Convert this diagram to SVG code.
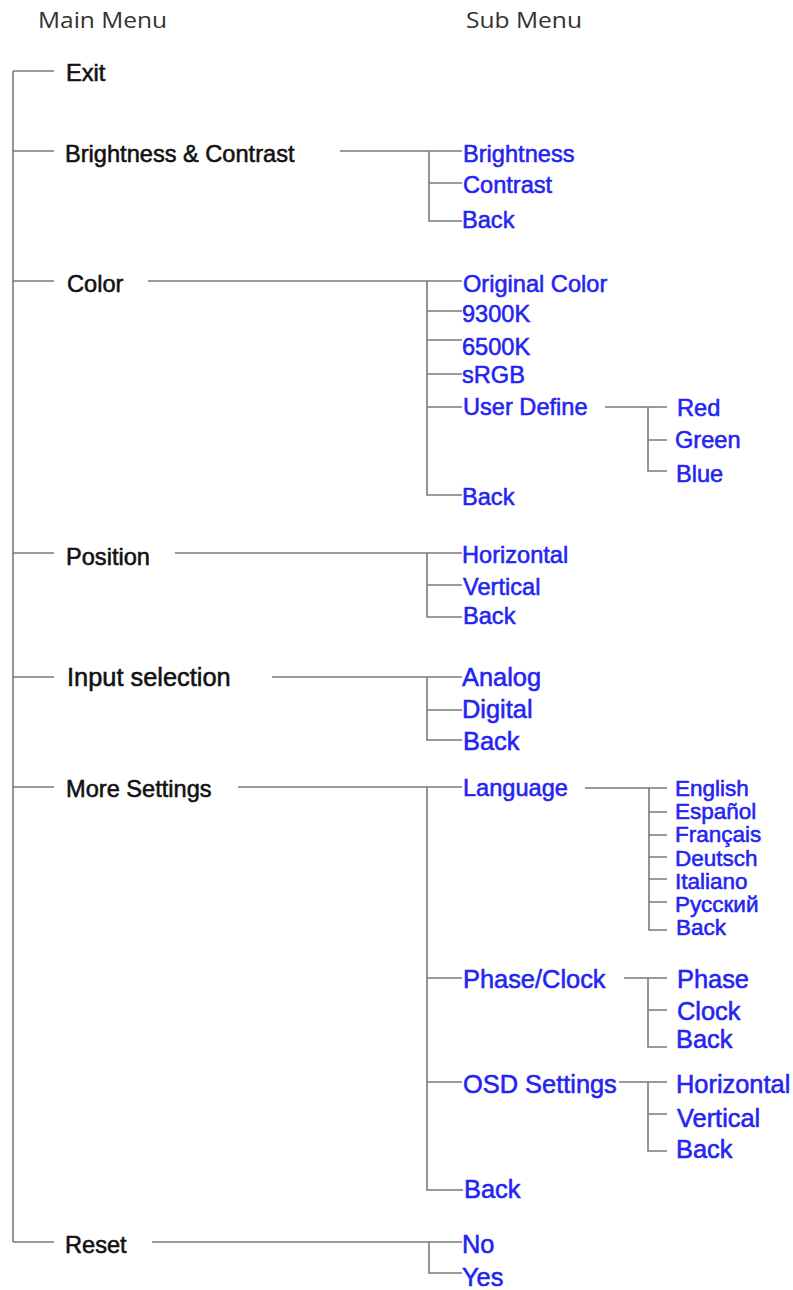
<svg xmlns="http://www.w3.org/2000/svg" width="793" height="1290" viewBox="0 0 793 1290">
<style>
.hd{font-family:"Open Sans","Liberation Sans",sans-serif;font-size:22px;fill:#333}
.m{font-family:"Liberation Sans",Arial,sans-serif;font-size:23.6px;fill:#111;stroke:#111;stroke-width:0.55}
.s{font-family:"Liberation Sans",Arial,sans-serif;font-size:23.6px;fill:#2424f2;stroke:#2424f2;stroke-width:0.55}
.l{font-size:22.5px}
.b{font-size:25.4px}
.c{stroke:#7a7a7a;stroke-width:1.6;fill:none}
</style>
<rect width="793" height="1290" fill="#fff"/>
<g id="headers">
<text class="hd" x="38" y="28" textLength="129" lengthAdjust="spacingAndGlyphs">Main Menu</text>
<text class="hd" x="466" y="28" textLength="116" lengthAdjust="spacingAndGlyphs">Sub Menu</text>
</g>
<g id="connectors" class="c">
<path d="M13,71 V1242"/>
<path d="M13,71 H54 M13,151 H54 M13,281 H54 M13,553 H54 M13,677 H54 M13,787 H54 M13,1242 H54"/>
<path d="M340,151 H462 M429,151 V221 H462 M429,183 H462"/>
<path d="M148,281 H462 M427,281 V495 H462 M427,311 H462 M427,340 H462 M427,374 H462 M427,407 H462"/>
<path d="M605,407 H667 M648,407 V471 H667 M648,440 H667"/>
<path d="M175,553 H462 M427,553 V617 H462 M427,585 H462"/>
<path d="M272,677 H462 M427,677 V740 H462 M427,710 H462"/>
<path d="M238,787 H462 M427,787 V1190 H463 M427,978 H462 M427,1082 H462"/>
<path d="M585,788 H667 M649,788 V930 H667 M649,812 H667 M649,835 H667 M649,857 H667 M649,879 H667 M649,902 H667"/>
<path d="M624,978 H667 M648,978 V1047 H667 M648,1010 H667"/>
<path d="M619,1082 H667 M648,1082 V1151 H667 M648,1114 H667"/>
<path d="M152,1242 H462 M429,1242 V1273 H462"/>
</g>
<g id="exit"><text class="m" x="66" y="81">Exit</text></g>
<g id="brightness-contrast"><text class="m" x="65" y="162">Brightness &amp; Contrast</text></g>
<g id="color"><text class="m" x="67" y="292">Color</text></g>
<g id="position"><text class="m" x="66" y="565">Position</text></g>
<g id="input-selection"><text class="m b" x="67" y="686">Input selection</text></g>
<g id="more-settings"><text class="m" x="66" y="797">More Settings</text></g>
<g id="reset"><text class="m" x="65" y="1253">Reset</text></g>
<g id="bc-sub">
<text class="s" x="463" y="162">Brightness</text>
<text class="s" x="463" y="193">Contrast</text>
<text class="s" x="462" y="228">Back</text>
</g>
<g id="color-sub">
<text class="s" x="463" y="292">Original Color</text>
<text class="s" x="462" y="322">9300K</text>
<text class="s" x="462" y="355">6500K</text>
<text class="s" x="462" y="383">sRGB</text>
<text class="s" x="463" y="415">User Define</text>
<text class="s" x="462" y="505">Back</text>
</g>
<g id="userdefine-sub">
<text class="s" x="677" y="416">Red</text>
<text class="s" x="675" y="448">Green</text>
<text class="s" x="676" y="482">Blue</text>
</g>
<g id="position-sub">
<text class="s" x="462" y="563">Horizontal</text>
<text class="s" x="463" y="595">Vertical</text>
<text class="s" x="463" y="624">Back</text>
</g>
<g id="input-sub">
<text class="s b" x="462" y="686">Analog</text>
<text class="s b" x="462" y="718">Digital</text>
<text class="s b" x="463" y="750">Back</text>
</g>
<g id="more-sub">
<text class="s" x="463" y="796">Language</text>
<text class="s b" x="463" y="988">Phase/Clock</text>
<text class="s b" x="463" y="1093">OSD Settings</text>
<text class="s b" x="464" y="1198">Back</text>
</g>
<g id="language-sub">
<text class="s l" x="675" y="796">English</text>
<text class="s l" x="675" y="819">Español</text>
<text class="s l" x="675" y="842">Français</text>
<text class="s l" x="675" y="866">Deutsch</text>
<text class="s l" x="675" y="889">Italiano</text>
<text class="s l" x="675" y="912">Русский</text>
<text class="s l" x="676" y="935">Back</text>
</g>
<g id="phaseclock-sub">
<text class="s b" x="677" y="988">Phase</text>
<text class="s b" x="677" y="1020">Clock</text>
<text class="s b" x="676" y="1048">Back</text>
</g>
<g id="osd-sub">
<text class="s b" x="676" y="1093">Horizontal</text>
<text class="s b" x="677" y="1127">Vertical</text>
<text class="s b" x="676" y="1158">Back</text>
</g>
<g id="reset-sub">
<text class="s b" x="462" y="1253">No</text>
<text class="s b" x="462" y="1286">Yes</text>
</g>
</svg>
